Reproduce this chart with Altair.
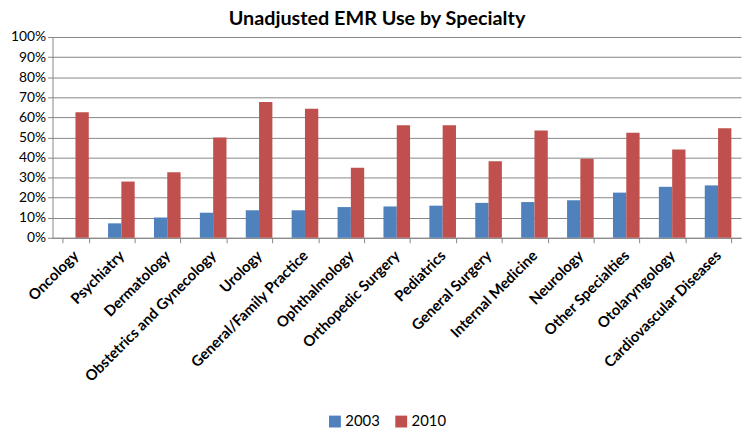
import altair as alt
import pandas as pd

specialties = ["Oncology", "Psychiatry", "Dermatology", "Obstetrics and Gynecology", "Urology",
               "General/Family Practice", "Ophthalmology", "Orthopedic Surgery", "Pediatrics",
               "General Surgery", "Internal Medicine", "Neurology", "Other Specialties",
               "Otolaryngology", "Cardiovascular Diseases"]
use_2003 = [0.0, 7.2, 10.1, 12.5, 13.7, 13.7, 15.3, 15.6, 16.0, 17.4, 17.8, 18.7, 22.5, 25.4, 26.1]
use_2010 = [62.5, 28.0, 32.7, 50.0, 67.6, 64.3, 34.9, 56.0, 56.0, 38.1, 53.4, 39.4, 52.3, 44.0, 54.6]
years = ["2003", "2010"]
colors = ["#4F81BD", "#C0504D"]

rows = []
for s, a, b in zip(specialties, use_2003, use_2010):
    rows.append({"Specialty": s, "Year": "2003", "Use": a / 100})
    rows.append({"Specialty": s, "Year": "2010", "Use": b / 100})
df = pd.DataFrame(rows)

FONT = "Lato"

chart = alt.Chart(df).mark_bar().encode(
    x=alt.X("Specialty:N", sort=specialties, title=None,
            scale=alt.Scale(paddingInner=0.42, paddingOuter=0.21),
            axis=alt.Axis(labelAngle=-45, labelAlign="right", labelBaseline="middle",
                          labelFontSize=15, labelFontWeight="bold", labelColor="#000000",
                          labelFont=FONT, tickBand="extent", tickColor="#868686",
                          domainColor="#868686", tickSize=5, labelPadding=10,
                          labelOverlap=False, labelLimit=300)),
    xOffset=alt.XOffset("Year:N", scale=alt.Scale(paddingInner=0, paddingOuter=0)),
    y=alt.Y("Use:Q", title=None,
            scale=alt.Scale(domain=[0, 1], nice=False),
            axis=alt.Axis(values=[i / 10 for i in range(11)], format=".0%",
                          labelFontSize=14, labelColor="#000000", labelFont=FONT,
                          gridColor="#868686", domainColor="#868686",
                          tickColor="#868686", tickSize=5, labelPadding=2)),
    color=alt.Color("Year:N", scale=alt.Scale(domain=years, range=colors),
                    legend=alt.Legend(title=None, orient="none", direction="horizontal",
                                      legendX=278, legendY=381, symbolType="square",
                                      symbolSize=144, symbolStrokeWidth=0,
                                      labelFontSize=15, labelFont=FONT, labelColor="#000000",
                                      columnPadding=14, labelOffset=3)),
).properties(
    width=696, height=203,
    title=alt.TitleParams("Unadjusted EMR Use by Specialty", fontSize=20, font=FONT,
                          fontWeight="bold", color="#000000", anchor="middle", dx=-20,
                          offset=1),
    autosize=alt.AutoSizeParams(type="none"),
    padding={"left": 45, "top": 27, "right": 2, "bottom": 193},
).configure_view(stroke=None)

chart.save("out.html", embed_options={"renderer": "svg", "actions": False})
